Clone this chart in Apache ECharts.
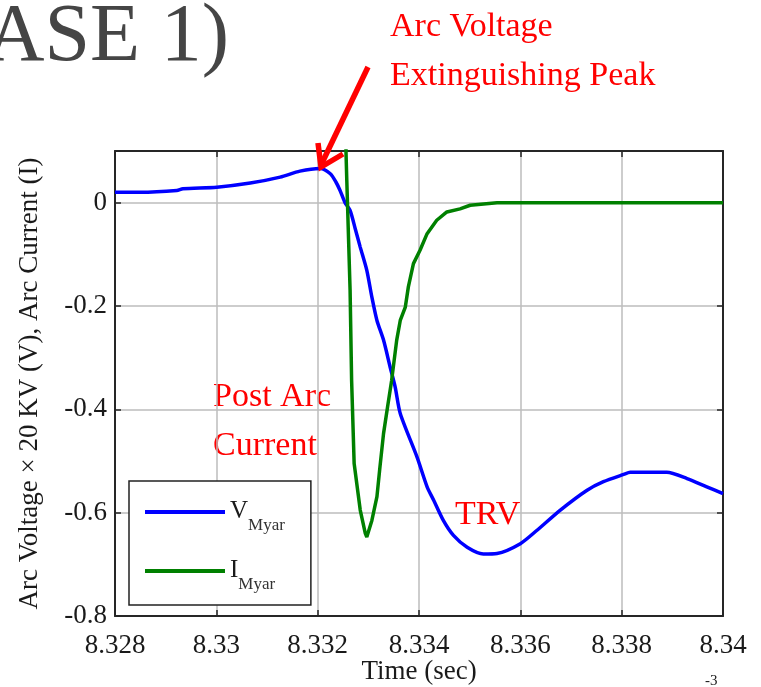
<!DOCTYPE html>
<html>
<head>
<meta charset="utf-8">
<script src="https://cdn.jsdelivr.net/npm/echarts/dist/echarts.min.js"></script>
<style>html,body{margin:0;padding:0;background:#fff;}#c{width:761px;height:687px;}</style>
</head>
<body>
<div id="c"></div>
<script>
// ---- data ----
const xTicks = [8.328, 8.33, 8.332, 8.334, 8.336, 8.338, 8.34];
const yTicks = [-0.8, -0.6, -0.4, -0.2, 0];

const vTime = [8.32800, 8.32849, 8.32922, 8.32934, 8.33001, 8.33067, 8.33126, 8.33165, 8.33205, 8.33225, 8.33236, 8.33244, 8.33254, 8.33264, 8.33274, 8.33284, 8.33297, 8.33307, 8.33317, 8.33330, 8.33343, 8.33353, 8.33363, 8.33396, 8.33416, 8.33429, 8.33448, 8.33468, 8.33495, 8.33527, 8.33554, 8.33600, 8.33633, 8.33679, 8.33731, 8.33764, 8.33804, 8.33817, 8.33889, 8.33929, 8.33968, 8.34000];
const vValue = [0.020, 0.020, 0.0235, 0.027, 0.030, 0.038, 0.0495, 0.061, 0.066, 0.056, 0.040, 0.024, 0.000, -0.015, -0.050, -0.086, -0.131, -0.183, -0.228, -0.266, -0.318, -0.357, -0.408, -0.492, -0.550, -0.576, -0.615, -0.644, -0.667, -0.680, -0.679, -0.660, -0.634, -0.595, -0.557, -0.540, -0.526, -0.522, -0.522, -0.534, -0.550, -0.563];

const iTime = [8.33254, 8.33256, 8.332575, 8.33264, 8.33267, 8.33272, 8.33284, 8.33294, 8.33297, 8.33307, 8.33317, 8.33323, 8.33330, 8.33338, 8.33346, 8.33356, 8.33363, 8.33373, 8.33379, 8.33389, 8.33402, 8.33416, 8.33435, 8.33455, 8.33481, 8.33501, 8.33554, 8.34000];
const iValue = [0.30, 0.095, 0.043, -0.169, -0.344, -0.505, -0.595, -0.640, -0.647, -0.615, -0.569, -0.511, -0.447, -0.395, -0.344, -0.266, -0.228, -0.202, -0.163, -0.118, -0.092, -0.060, -0.034, -0.018, -0.012, -0.005, 0.000, 0.000];

const seriesNames = ['V_Myar', 'I_Myar'];
// ----------------------------------------

const FONT = "'Liberation Serif','Times New Roman',serif";
const chart = echarts.init(document.getElementById('c'), null, {renderer: 'canvas'});

const xMin = xTicks[0], xMax = xTicks[xTicks.length - 1];
const xInt = 0.002;
const yMin = -0.8, yMax = 0.1, yInt = 0.2;

const fmtX = v => {
  const r = Math.round(v * 1000) / 1000;
  return xTicks.some(t => Math.abs(t - r) < 1e-9) ? String(parseFloat(r.toFixed(3))) : '';
};
const fmtY = v => {
  const r = Math.round(v * 10) / 10;
  return yTicks.some(t => Math.abs(t - v) < 1e-6) ? String(r) : '';
};

const axisLineStyle = {color: '#262626', width: 2};
const tickStyle = {show: true, inside: true, length: 6, lineStyle: {color: '#262626', width: 1.5}};

const legendRich = {
  m: {fontFamily: FONT, fontSize: 25, color: '#1a1a1a', verticalAlign: 'top', lineHeight: 26},
  s: {fontFamily: FONT, fontSize: 17, color: '#333', verticalAlign: 'top', lineHeight: 20, padding: [18, 0, 0, 0]}
};

const option = {
  animation: false,
  backgroundColor: '#fff',
  grid: {left: 115, right: 38, top: 151, bottom: 71, containLabel: false, outerBoundsMode: 'none'},
  xAxis: [{
    type: 'value', min: xMin, max: xMax, interval: xInt,
    name: 'Time (sec)', nameLocation: 'middle', nameGap: 42, nameMoveOverlap: false,
    nameTextStyle: {fontFamily: FONT, fontSize: 27, color: '#1a1a1a'},
    axisLine: {show: true, onZero: false, lineStyle: axisLineStyle},
    axisTick: tickStyle,
    axisLabel: {fontFamily: FONT, fontSize: 27, color: '#1a1a1a', margin: 16, formatter: fmtX, showMinLabel: true, showMaxLabel: true},
    splitLine: {show: true, lineStyle: {color: '#bdbdbd', width: 1.5}}
  }, {
    type: 'value', position: 'top', min: xMin, max: xMax, interval: xInt,
    axisLine: {show: true, onZero: false, lineStyle: axisLineStyle},
    axisTick: tickStyle, axisLabel: {show: false}, splitLine: {show: false}
  }],
  yAxis: [{
    type: 'value', min: yMin, max: yMax, interval: yInt,
    name: 'Arc Voltage \u00d7 20 KV (V), Arc Current (I)', nameLocation: 'middle', nameGap: 72, nameRotate: 90, nameMoveOverlap: false,
    nameTextStyle: {fontFamily: FONT, fontSize: 27, color: '#1a1a1a'},
    axisLine: {show: true, onZero: false, lineStyle: axisLineStyle},
    axisTick: tickStyle,
    axisLabel: {fontFamily: FONT, fontSize: 27, color: '#1a1a1a', margin: 8, formatter: fmtY},
    splitLine: {show: true, lineStyle: {color: '#bdbdbd', width: 1.5}}
  }, {
    type: 'value', position: 'right', min: yMin, max: yMax, interval: yInt,
    axisLine: {show: true, onZero: false, lineStyle: axisLineStyle},
    axisTick: tickStyle, axisLabel: {show: false}, splitLine: {show: false}
  }],
  legend: {
    orient: 'vertical', left: 129, top: 481,
    padding: [18, 26, 12, 16],
    itemWidth: 80, itemHeight: 4, itemGap: 24,
    icon: 'rect',
    backgroundColor: '#fff', borderColor: '#222', borderWidth: 1.5, borderRadius: 0,
    data: seriesNames,
    formatter: name => {
      const [a, b] = name.split('_');
      return '{m|' + a + '}{s|' + b + '}';
    },
    textStyle: {rich: legendRich}
  },
  series: [{
    name: seriesNames[0], type: 'line', showSymbol: false, smooth: 0.25,
    lineStyle: {color: '#0000ff', width: 3.5}, itemStyle: {color: '#0000ff'},
    data: vTime.map((t, k) => [t, vValue[k]]), z: 3
  }, {
    name: seriesNames[1], type: 'line', showSymbol: false, smooth: false,
    lineStyle: {color: '#008000', width: 3.5}, itemStyle: {color: '#008000'},
    data: iTime.map((t, k) => [t, iValue[k]]), z: 4
  }],
  graphic: [
    {type: 'text', style: {text: 'CASE 1)', x: 229, y: 79, textAlign: 'right', textVerticalAlign: 'bottom', font: "82px 'Liberation Serif', serif", fill: '#454545'}},
    {type: 'text', style: {text: 'Arc Voltage', x: 390, y: 44, textVerticalAlign: 'bottom', font: "34px 'Liberation Serif', serif", fill: '#ff0000'}},
    {type: 'text', style: {text: 'Extinguishing Peak', x: 390, y: 93, textVerticalAlign: 'bottom', font: "34px 'Liberation Serif', serif", fill: '#ff0000'}},
    {type: 'text', style: {text: 'Post Arc', x: 213, y: 414, textVerticalAlign: 'bottom', font: "34px 'Liberation Serif', serif", fill: '#ff0000'}},
    {type: 'text', style: {text: 'Current', x: 213, y: 463, textVerticalAlign: 'bottom', font: "34px 'Liberation Serif', serif", fill: '#ff0000'}},
    {type: 'text', z: 10, style: {text: 'TRV', x: 455, y: 532, textVerticalAlign: 'bottom', font: "34px 'Liberation Serif', serif", fill: '#ff0000'}},
    {type: 'text', style: {text: '-3', x: 705, y: 689, textVerticalAlign: 'bottom', font: "15px 'Liberation Serif', serif", fill: '#1a1a1a'}},
    {type: 'line', z: 20, shape: {x1: 368, y1: 67, x2: 322, y2: 163}, style: {stroke: '#ff0000', lineWidth: 5.5}},
    {type: 'polyline', z: 20, shape: {points: [[318, 143], [321, 167], [343, 154]]}, style: {stroke: '#ff0000', lineWidth: 5.5, fill: null, lineJoin: 'miter'}}
  ]
};
chart.setOption(option);
</script>
</body>
</html>
